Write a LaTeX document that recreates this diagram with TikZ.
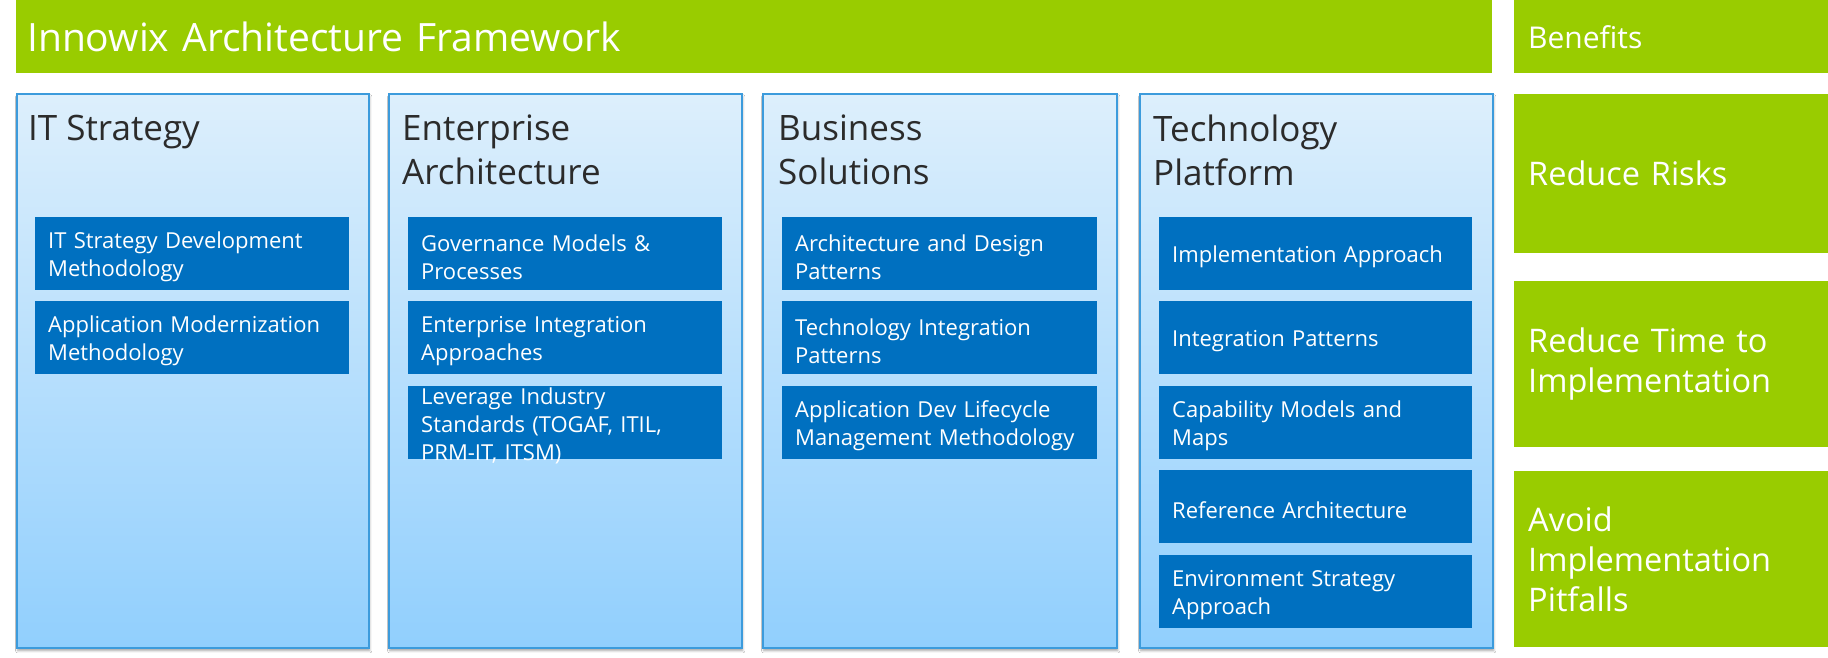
\documentclass[tikz,border=0pt]{standalone}
\usepackage{fontspec}
\setmainfont{Open Sans}
\usetikzlibrary{shadows.blur}
\definecolor{fwgreen}{HTML}{99CC00}
\definecolor{fwblue}{HTML}{0070C0}
\definecolor{coltop}{HTML}{DDEFFC}
\definecolor{colbot}{HTML}{91CFFD}
\definecolor{colborder}{HTML}{3C9BDC}
\definecolor{titlegray}{HTML}{2B2B2B}
\begin{document}
\begin{tikzpicture}[x=1pt,y=-1pt,
  greenbar/.style={fill=fwgreen, draw=none, text=white, inner ysep=0pt,
    anchor=north west, align=left},
  column/.style={top color=coltop, bottom color=colbot, draw=colborder,
    line width=1.5pt, anchor=north west, inner sep=0pt,
    minimum height=554pt,
    blur shadow={shadow xshift=1pt, shadow yshift=-3pt, shadow opacity=35, shadow blur steps=6}},
  coltitle/.style={anchor=north west, inner sep=0pt, text=titlegray, align=left,
    font=\fontsize{35}{44}\selectfont},
  item/.style={fill=fwblue, draw=none, text=white, anchor=north west,
    inner xsep=13pt, inner ysep=0pt, minimum height=73pt, align=left,
    font=\fontsize{22}{28}\selectfont,
    execute at begin node={\rule{0pt}{23.5pt}}},
  benefit/.style={greenbar, inner xsep=14pt, font=\fontsize{32.5}{40}\selectfont},
]
\useasboundingbox[fill=white] (0,0) rectangle (1828,657);

% title bar
\node[greenbar, inner xsep=11pt, minimum width=1476pt, minimum height=73pt, text width=1454pt,
  font=\fontsize{39}{46}\selectfont] (title) at (16,0) {Innowix Architecture Framework};

% benefits column
\node[benefit, minimum width=314pt, minimum height=73pt, text width=286pt,
  font=\fontsize{30}{36}\selectfont] (ben) at (1514,0) {Benefits};
\node[benefit, minimum width=314pt, minimum height=159pt, text width=286pt] (b1) at (1514,94) {Reduce Risks};
\node[benefit, minimum width=314pt, minimum height=166pt, text width=286pt] (b2) at (1514,281) {Reduce Time to\\Implementation};
\node[benefit, minimum width=314pt, minimum height=176pt, text width=286pt] (b3) at (1514,471) {Avoid\\Implementation\\Pitfalls};

% columns
\node[column, minimum width=352pt] (c1) at (16,93) {};
\node[column, minimum width=353pt] (c2) at (388,93) {};
\node[column, minimum width=354pt] (c3) at (762,93) {};
\node[column, minimum width=353pt] (c4) at (1139,93) {};

\node[coltitle] (t1) at ([xshift=12pt, yshift=-22pt]c1.north west) {IT Strategy};
\node[coltitle] (t2) at ([xshift=14pt, yshift=-22pt]c2.north west) {Enterprise\\Architecture};
\node[coltitle] (t3) at ([xshift=16pt, yshift=-22pt]c3.north west) {Business\\Solutions};
\node[coltitle] (t4) at ([xshift=14pt, yshift=-22pt]c4.north west) {Technology\\Platform};

% items column 1
\node[item, minimum width=314pt, text width=288pt] (i11) at (35,217) {IT Strategy Development\\Methodology};
\node[item, minimum width=314pt, text width=288pt] (i12) at (35,301) {Application Modernization\\Methodology};

% items column 2
\node[item, minimum width=314pt, text width=288pt] (i21) at (408,217) {Governance Models \&\\Processes};
\node[item, minimum width=314pt, text width=288pt] (i22) at (408,301) {Enterprise Integration\\Approaches};
\node[item, minimum width=314pt, text width=288pt, execute at begin node={}] (i23) at (408,386)
  {\parbox[c][73pt][c]{288pt}{\raggedright\vspace*{7pt}Leverage Industry\\Standards (TOGAF, ITIL,\\PRM-IT, ITSM)}};

% items column 3
\node[item, minimum width=315pt, text width=289pt] (i31) at (782,217) {Architecture and Design\\Patterns};
\node[item, minimum width=315pt, text width=289pt] (i32) at (782,301) {Technology Integration\\Patterns};
\node[item, minimum width=315pt, text width=289pt] (i33) at (782,386) {Application Dev Lifecycle\\Management Methodology};

% items column 4
\node[item, minimum width=313pt, text width=287pt] (i41) at (1159,217) {Implementation Approach};
\node[item, minimum width=313pt, text width=287pt] (i42) at (1159,301) {Integration Patterns};
\node[item, minimum width=313pt, text width=287pt] (i43) at (1159,386) {Capability Models and\\Maps};
\node[item, minimum width=313pt, text width=287pt] (i44) at (1159,470) {Reference Architecture};
\node[item, minimum width=313pt, text width=287pt] (i45) at (1159,555) {Environment Strategy\\Approach};
\end{tikzpicture}
\end{document}
